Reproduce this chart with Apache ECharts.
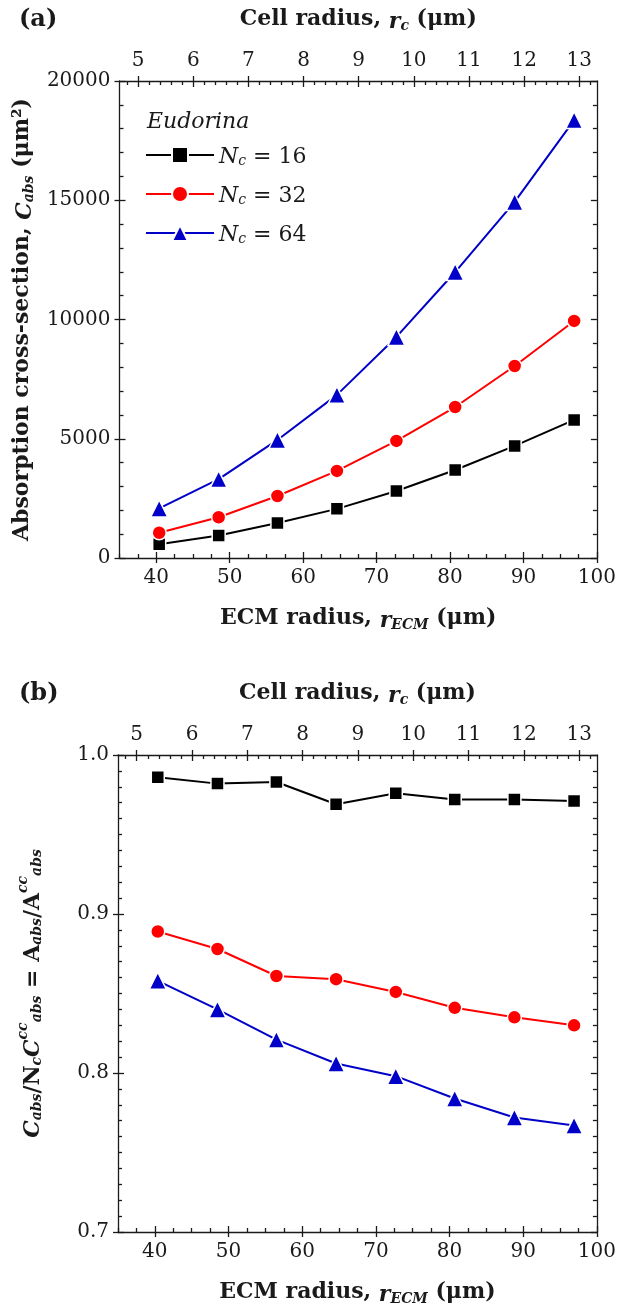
<!DOCTYPE html>
<html>
<head>
<meta charset="utf-8">
<script src="https://cdn.jsdelivr.net/npm/echarts@6/dist/echarts.min.js"></script>
<style>
  html, body { margin: 0; padding: 0; background: #fff; }
  #chart { width: 619px; height: 1309px; }
</style>
</head>
<body>
<div id="chart"></div>
<script>
// data
var rEcm = [40.4, 48.5, 56.5, 64.6, 72.7, 80.7, 88.8, 96.9]
var cabs16 = [580, 940, 1470, 2060, 2810, 3690, 4700, 5790]
var cabs32 = [1060, 1710, 2600, 3650, 4910, 6330, 8050, 9940]
var cabs64 = [2080, 3310, 4950, 6840, 9270, 11990, 14930, 18360]
var ratio16 = [0.986, 0.982, 0.983, 0.969, 0.976, 0.972, 0.972, 0.971]
var ratio32 = [0.889, 0.878, 0.861, 0.859, 0.851, 0.841, 0.835, 0.830]
var ratio64 = [0.858, 0.840, 0.821, 0.806, 0.798, 0.784, 0.772, 0.767]
var cellCounts = ['16', '32', '64']
var ecmTicks = [40, 50, 60, 70, 80, 90, 100]
var cellTicks = [5, 6, 7, 8, 9, 10, 11, 12, 13]
var cabsTicks = [0, 5000, 10000, 15000, 20000]
var ratioTicks = [0.7, 0.8, 0.9, 1.0]

var K = 0.1332 // cell radius = K * ECM radius (top axis)
var ECM_MIN = 35
var ECM_MAX = 100

var INK = '#1a1a1a'
var FONT = 'DejaVu Serif'
var colors = ['#000000', '#ff0000', '#0000c8']
var symbols = ['rect', 'circle', 'triangle']
var symbolSizes = [13, 14, 17]

function minorList (start, end, step, majors) {
  var out = []
  for (var v = start; v <= end + 1e-9; v += step) {
    var r = Math.round(v * 1000) / 1000
    if (majors.indexOf(r) < 0) out.push(r)
  }
  return out
}

var ecmMinor = minorList(35, 100, 2.5, ecmTicks)
var cellMinor = minorList(4.8, 13.2, 0.2, cellTicks)

var nameRich = {
  i: { fontFamily: FONT, fontStyle: 'italic', fontWeight: 'bold', fontSize: 22, color: INK, lineHeight: 28, verticalAlign: 'bottom' },
  s: { fontFamily: FONT, fontStyle: 'italic', fontWeight: 'bold', fontSize: 14, color: INK, lineHeight: 16, verticalAlign: 'bottom' },
  p: { fontFamily: FONT, fontStyle: 'italic', fontWeight: 'bold', fontSize: 14, color: INK, lineHeight: 16, verticalAlign: 'top' },
  b: { fontFamily: FONT, fontWeight: 'bold', fontSize: 22, color: INK, lineHeight: 28, verticalAlign: 'bottom' }
}

function nameStyle () {
  return { fontFamily: FONT, fontWeight: 'bold', fontSize: 22, color: INK, lineHeight: 28, rich: nameRich }
}

var lineStyle = { color: INK, width: 1.3 }

// three stacked axes per side: labels + inner major ticks, inner minor ticks, outer major ticks
function xSide (g, pos, min, max, majors, minors, name, nameGap) {
  var base = { type: 'value', gridIndex: g, position: pos, min: min, max: max, splitLine: { show: false } }
  return [
    Object.assign({}, base, {
      name: name,
      nameLocation: 'middle',
      nameGap: nameGap,
      nameTextStyle: nameStyle(),
      axisLine: { show: true, lineStyle: lineStyle },
      axisTick: { show: true, inside: true, length: 6, customValues: majors, lineStyle: lineStyle },
      axisLabel: { customValues: majors, margin: 10, fontFamily: FONT, fontSize: 20, color: INK, formatter: function (v) { return String(v) } }
    }),
    Object.assign({}, base, {
      axisLine: { show: false },
      axisTick: { show: true, inside: true, length: 4, customValues: minors, lineStyle: lineStyle },
      axisLabel: { show: false }
    }),
    Object.assign({}, base, {
      axisLine: { show: false },
      axisTick: { show: true, inside: false, length: 5, customValues: majors, lineStyle: lineStyle },
      axisLabel: { show: false }
    })
  ]
}

function yAxes (g, min, max, step, minorSplit, fmt, name, nameGap) {
  var base = { type: 'value', gridIndex: g, min: min, max: max, interval: step, splitLine: { show: false } }
  return [
    Object.assign({}, base, {
      position: 'left',
      name: name,
      nameLocation: 'middle',
      nameGap: nameGap,
      nameTextStyle: nameStyle(),
      axisLine: { show: true, lineStyle: lineStyle },
      axisTick: { show: true, inside: true, length: 6, lineStyle: lineStyle },
      minorTick: { show: true, splitNumber: minorSplit, length: 4, lineStyle: lineStyle },
      axisLabel: { margin: 9, fontFamily: FONT, fontSize: 20, color: INK, formatter: fmt }
    }),
    Object.assign({}, base, {
      position: 'left',
      axisLine: { show: false },
      axisTick: { show: true, inside: false, length: 5, lineStyle: lineStyle },
      axisLabel: { show: false }
    }),
    Object.assign({}, base, {
      position: 'right',
      axisLine: { show: true, lineStyle: lineStyle },
      axisTick: { show: true, inside: true, length: 6, lineStyle: lineStyle },
      minorTick: { show: true, splitNumber: minorSplit, length: 4, lineStyle: lineStyle },
      axisLabel: { show: false }
    })
  ]
}

function panelAxes (g) {
  var bottom = xSide(g, 'bottom', ECM_MIN, ECM_MAX, ecmTicks, ecmMinor,
    'ECM radius, {i|r}{s|ECM} (μm)', 46)
  var top = xSide(g, 'top', ECM_MIN * K, ECM_MAX * K, cellTicks, cellMinor,
    'Cell radius, {i|r}{s|c} (μm)', 48)
  return bottom.concat(top)
}

var xAxes = panelAxes(0).concat(panelAxes(1))
var yAxesAll = yAxes(0, cabsTicks[0], cabsTicks[cabsTicks.length - 1], 5000, 5,
  function (v) { return String(v) },
  'Absorption cross-section, {i|C}{s|abs} (μm²)', 76)
  .concat(yAxes(1, ratioTicks[0], ratioTicks[ratioTicks.length - 1], 0.1, 10,
    function (v) { return v.toFixed(1) },
    '{i|C}{s|abs}{b|/}{b|N}{s|c}{i|C}{p|cc}{s|abs}{b| = }{b|A}{s|abs}{b|/}{b|A}{p|cc}{s|abs}', 74))

function makeSeries (g, idx, values) {
  return {
    name: cellCounts[idx],
    type: 'line',
    xAxisIndex: g * 6,
    yAxisIndex: g * 3,
    data: rEcm.map(function (x, i) { return [x, values[i]] }),
    symbol: symbols[idx],
    symbolSize: symbolSizes[idx],
    showSymbol: true,
    lineStyle: { color: colors[idx], width: 2 },
    itemStyle: { color: colors[idx], borderColor: '#fff', borderWidth: 1.5 },
    animation: false,
    z: 3 + idx
  }
}

var chart = echarts.init(document.getElementById('chart'), null, { renderer: 'canvas' })
chart.setOption({
  backgroundColor: '#fff',
  animation: false,
  title: [
    { text: '(a)', left: 14, top: 3, textStyle: { fontFamily: FONT, fontWeight: 'bold', fontSize: 24, color: INK } },
    { text: '(b)', left: 14, top: 677, textStyle: { fontFamily: FONT, fontWeight: 'bold', fontSize: 24, color: INK } },
    { text: 'Eudorina', left: 142, top: 106, textStyle: { fontFamily: FONT, fontStyle: 'italic', fontWeight: 'normal', fontSize: 22, color: INK } }
  ],
  legend: {
    data: cellCounts,
    orient: 'vertical',
    left: 140,
    top: 141,
    itemWidth: 68,
    itemHeight: 20,
    itemGap: 17,
    formatter: function (name) { return '{i|N}{s|c}{t| = ' + name + '}' },
    textStyle: {
      fontFamily: FONT,
      fontSize: 22,
      color: INK,
      rich: {
        i: { fontFamily: FONT, fontStyle: 'italic', fontSize: 22, color: INK, lineHeight: 26, verticalAlign: 'bottom' },
        s: { fontFamily: FONT, fontStyle: 'italic', fontSize: 14, color: INK, lineHeight: 15, verticalAlign: 'bottom' },
        t: { fontFamily: FONT, fontSize: 22, color: INK, lineHeight: 26, verticalAlign: 'bottom' }
      }
    }
  },
  grid: [
    { left: 118, right: 22, top: 81, height: 477 },
    { left: 118, right: 22, top: 755, height: 477 }
  ],
  xAxis: xAxes,
  yAxis: yAxesAll,
  series: [
    makeSeries(0, 0, cabs16),
    makeSeries(0, 1, cabs32),
    makeSeries(0, 2, cabs64),
    makeSeries(1, 0, ratio16),
    makeSeries(1, 1, ratio32),
    makeSeries(1, 2, ratio64)
  ]
})
</script>
</body>
</html>
